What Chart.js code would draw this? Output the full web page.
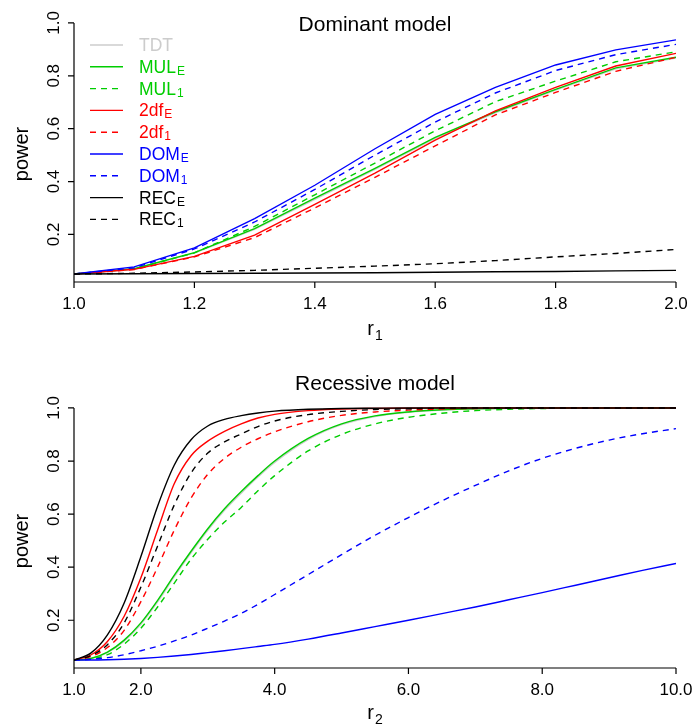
<!DOCTYPE html>
<html>
<head>
<meta charset="utf-8">
<title>Power curves</title>
<script src="https://cdn.jsdelivr.net/npm/chart.js@4.4.1/dist/chart.umd.min.js"></script>
<style>
  body { margin: 0; background: #fff; }
  canvas { display: block; }
</style>
</head>
<body>
<canvas id="domChart" width="695" height="364"></canvas>
<canvas id="recChart" width="695" height="364"></canvas>
<script>
// ---------------- data: dominant model (x = r1) ----------------
const domX    = [1.0, 1.1, 1.2, 1.3, 1.4, 1.5, 1.6, 1.7, 1.8, 1.9, 2.0];
const domTDT  = [0.05, 0.069, 0.129, 0.219, 0.333, 0.446, 0.563, 0.660, 0.746, 0.826, 0.867];
const domMULE = [0.05, 0.070, 0.131, 0.222, 0.337, 0.450, 0.567, 0.664, 0.749, 0.830, 0.870];
const domMUL1 = [0.05, 0.070, 0.130, 0.230, 0.350, 0.470, 0.592, 0.702, 0.780, 0.853, 0.891];
const dom2dfE = [0.05, 0.068, 0.117, 0.197, 0.314, 0.432, 0.557, 0.667, 0.756, 0.837, 0.885];
const dom2df1 = [0.05, 0.067, 0.115, 0.188, 0.300, 0.416, 0.535, 0.652, 0.737, 0.817, 0.870];
const domDOME = [0.05, 0.077, 0.149, 0.260, 0.386, 0.524, 0.654, 0.756, 0.841, 0.898, 0.936];
const domDOM1 = [0.05, 0.074, 0.145, 0.247, 0.370, 0.500, 0.625, 0.735, 0.820, 0.880, 0.919];
const domRECE = [0.05, 0.051, 0.052, 0.053, 0.054, 0.055, 0.057, 0.059, 0.060, 0.062, 0.064];
const domREC1 = [0.05, 0.053, 0.058, 0.064, 0.072, 0.080, 0.089, 0.101, 0.115, 0.128, 0.143];

// ---------------- data: recessive model (x = r2) ----------------
const recX    = [1, 1.25, 1.5, 1.75, 2, 2.25, 2.5, 2.75, 3, 3.25, 3.5, 3.75, 4, 4.5, 5, 5.5, 6, 6.5, 7, 7.5, 8, 8.5, 9, 9.5, 10];
const recTDT  = [0.05, 0.055, 0.078, 0.121, 0.185, 0.269, 0.364, 0.454, 0.539, 0.614, 0.679, 0.740, 0.795, 0.881, 0.937, 0.968, 0.984, 0.992, 0.997, 0.999, 1, 1, 1, 1, 1];
const recMULE = [0.05, 0.056, 0.080, 0.125, 0.190, 0.275, 0.370, 0.460, 0.545, 0.620, 0.685, 0.745, 0.800, 0.885, 0.940, 0.970, 0.985, 0.993, 0.997, 0.999, 1, 1, 1, 1, 1];
const recMUL1 = [0.05, 0.054, 0.070, 0.110, 0.170, 0.250, 0.340, 0.430, 0.505, 0.570, 0.625, 0.688, 0.745, 0.838, 0.900, 0.940, 0.965, 0.980, 0.990, 0.995, 0.998, 0.999, 1, 1, 1];
const rec2dfE = [0.05, 0.069, 0.120, 0.215, 0.360, 0.540, 0.715, 0.820, 0.875, 0.912, 0.940, 0.962, 0.976, 0.990, 0.996, 0.998, 0.999, 1, 1, 1, 1, 1, 1, 1, 1];
const rec2df1 = [0.05, 0.063, 0.097, 0.162, 0.270, 0.400, 0.540, 0.660, 0.750, 0.810, 0.852, 0.884, 0.910, 0.948, 0.972, 0.985, 0.992, 0.996, 0.998, 0.999, 1, 1, 1, 1, 1];
const recDOME = [0.05, 0.050, 0.051, 0.053, 0.056, 0.060, 0.065, 0.071, 0.078, 0.085, 0.093, 0.101, 0.109, 0.129, 0.152, 0.176, 0.200, 0.225, 0.250, 0.277, 0.304, 0.332, 0.360, 0.388, 0.414];
const recDOM1 = [0.05, 0.053, 0.059, 0.070, 0.085, 0.102, 0.122, 0.144, 0.170, 0.197, 0.226, 0.260, 0.297, 0.372, 0.447, 0.520, 0.587, 0.650, 0.708, 0.763, 0.810, 0.848, 0.879, 0.903, 0.922];
const recRECE = [0.05, 0.076, 0.145, 0.265, 0.440, 0.630, 0.785, 0.880, 0.932, 0.957, 0.971, 0.981, 0.988, 0.995, 0.998, 0.999, 1, 1, 1, 1, 1, 1, 1, 1, 1];
const recREC1 = [0.05, 0.066, 0.108, 0.190, 0.325, 0.480, 0.635, 0.755, 0.830, 0.872, 0.902, 0.930, 0.951, 0.975, 0.987, 0.994, 0.997, 0.999, 1, 1, 1, 1, 1, 1, 1];

// series names (main text + subscript) and ticks
const seriesNames = ['TDT', 'MUL', 'MUL', '2df', '2df', 'DOM', 'DOM', 'REC', 'REC'];
const seriesSubs  = ['', 'E', '1', 'E', '1', 'E', '1', 'E', '1'];
const yTicks      = [0.2, 0.4, 0.6, 0.8, 1.0];
const yTickLabels = ['0.2', '0.4', '0.6', '0.8', '1.0'];
const domXTicks   = [1.0, 1.2, 1.4, 1.6, 1.8, 2.0];
const domXLabels  = ['1.0', '1.2', '1.4', '1.6', '1.8', '2.0'];
const recXTicks   = [1, 2, 4, 6, 8, 10];
const recXLabels  = ['1.0', '2.0', '4.0', '6.0', '8.0', '10.0'];

// styles
const seriesColors = ['#cccccc', '#00cd00', '#00cd00', '#ff0000', '#ff0000', '#0000ff', '#0000ff', '#000000', '#000000'];
const seriesDashed = [false, false, true, false, true, false, true, false, true];
const FONT = '"Liberation Sans", Arial, Helvetica, sans-serif';

function makeDatasets(xs, series, smooth) {
    return series.map((vals, i) => ({
        label: seriesNames[i] + seriesSubs[i],
        data: xs.map((x, k) => ({ x: x, y: vals[k] })),
        borderColor: seriesColors[i],
        borderWidth: 1.4,
        borderDash: seriesDashed[i] ? [6, 5] : [],
        pointRadius: 0,
        fill: false,
        tension: 0,
        cubicInterpolationMode: smooth ? 'monotone' : 'default',
        order: -i
    }));
}

// text with an optional subscript, left aligned at x, baseline y
function drawSubText(ctx, x, y, main, sub, size, subSize, drop) {
    ctx.textAlign = 'left';
    ctx.textBaseline = 'alphabetic';
    ctx.font = size + 'px ' + FONT;
    ctx.fillText(main, x, y);
    const w = ctx.measureText(main).width;
    if (sub) {
        ctx.font = subSize + 'px ' + FONT;
        ctx.fillText(sub, x + w + 1, y + drop);
    }
}

function subTextWidth(ctx, main, sub, size, subSize) {
    ctx.font = size + 'px ' + FONT;
    let w = ctx.measureText(main).width;
    ctx.font = subSize + 'px ' + FONT;
    if (sub) w += 1 + ctx.measureText(sub).width;
    return w;
}

// R-style axes, titles and labels drawn from the chart's own scales
function makeAxesPlugin(cfg) {
    return {
        id: 'rAxes',
        afterDraw(chart) {
            const ctx = chart.ctx;
            const xs = chart.scales.x, ys = chart.scales.y;
            const area = chart.chartArea;
            const xb = area.bottom;
            const xl = xs.getPixelForValue(cfg.xTicks[0]);
            ctx.save();
            ctx.strokeStyle = '#000';
            ctx.fillStyle = '#000';
            ctx.lineWidth = 1.2;

            // x axis line + ticks
            ctx.beginPath();
            ctx.moveTo(xl, xb);
            ctx.lineTo(xs.getPixelForValue(cfg.xTicks[cfg.xTicks.length - 1]), xb);
            cfg.xTicks.forEach(v => {
                const p = xs.getPixelForValue(v);
                ctx.moveTo(p, xb);
                ctx.lineTo(p, xb + 6);
            });
            // y axis line + ticks
            ctx.moveTo(xl, ys.getPixelForValue(1.0));
            ctx.lineTo(xl, ys.getPixelForValue(0));
            yTicks.forEach(v => {
                const p = ys.getPixelForValue(v);
                ctx.moveTo(xl, p);
                ctx.lineTo(xl - 6, p);
            });
            ctx.stroke();

            // x tick labels
            ctx.font = '17px ' + FONT;
            ctx.textAlign = 'center';
            ctx.textBaseline = 'alphabetic';
            cfg.xTicks.forEach((v, i) => {
                ctx.fillText(cfg.xLabels[i], xs.getPixelForValue(v), xb + 27);
            });

            // y tick labels (rotated, R las = 0)
            ctx.textBaseline = 'middle';
            yTicks.forEach((v, i) => {
                ctx.save();
                ctx.translate(xl - 20, ys.getPixelForValue(v));
                ctx.rotate(-Math.PI / 2);
                ctx.fillText(yTickLabels[i], 0, 0);
                ctx.restore();
            });

            // y axis title
            ctx.save();
            ctx.font = '20px ' + FONT;
            ctx.translate(22, cfg.yLabelY);
            ctx.rotate(-Math.PI / 2);
            ctx.fillText('power', 0, 0);
            ctx.restore();

            // main title
            const cx = (area.left + area.right) / 2;
            ctx.font = '21px ' + FONT;
            ctx.textAlign = 'center';
            ctx.textBaseline = 'alphabetic';
            ctx.fillText(cfg.title, cx, cfg.titleY);

            // x axis title with subscript
            const w = subTextWidth(ctx, 'r', cfg.xSub, 20, 14);
            drawSubText(ctx, cx - w / 2, cfg.xLabelY, 'r', cfg.xSub, 20, 14, 5);

            // legend
            if (cfg.legend) {
                seriesNames.forEach((name, i) => {
                    const y = 45 + i * 21.8;
                    ctx.strokeStyle = seriesColors[i];
                    ctx.lineWidth = 1.4;
                    ctx.setLineDash(seriesDashed[i] ? [6, 5] : []);
                    ctx.beginPath();
                    ctx.moveTo(90, y);
                    ctx.lineTo(123, y);
                    ctx.stroke();
                    ctx.setLineDash([]);
                    ctx.fillStyle = seriesColors[i];
                    drawSubText(ctx, 139, y + 6, name, seriesSubs[i], 17.5, 12, 2);
                });
            }
            ctx.restore();
        }
    };
}

function makeChart(id, xs, series, xMin, xMax, padding, smooth, cfg) {
    return new Chart(document.getElementById(id), {
        type: 'line',
        data: { datasets: makeDatasets(xs, series, smooth) },
        options: {
            responsive: false,
            animation: false,
            devicePixelRatio: 1,
            layout: { padding: padding },
            plugins: { legend: { display: false }, title: { display: false }, tooltip: { enabled: false } },
            scales: {
                x: { type: 'linear', min: xMin, max: xMax, display: false },
                y: { type: 'linear', min: 0.02, max: 1.03, display: false }
            }
        },
        plugins: [makeAxesPlugin(cfg)]
    });
}

makeChart('domChart', domX,
    [domTDT, domMULE, domMUL1, dom2dfE, dom2df1, domDOME, domDOM1, domRECE, domREC1],
    1.0, 2.0, { left: 74, right: 19, top: 15, bottom: 82 }, false,
    { xTicks: domXTicks, xLabels: domXLabels, title: 'Dominant model', titleY: 30.5,
      xSub: '1', xLabelY: 335, yLabelY: 154, legend: true });

makeChart('recChart', recX,
    [recTDT, recMULE, recMUL1, rec2dfE, rec2df1, recDOME, recDOM1, recRECE, recREC1],
    1, 10, { left: 74, right: 19, top: 36, bottom: 60 }, true,
    { xTicks: recXTicks, xLabels: recXLabels, title: 'Recessive model', titleY: 26,
      xSub: '2', xLabelY: 355, yLabelY: 177, legend: false });
</script>
</body>
</html>
